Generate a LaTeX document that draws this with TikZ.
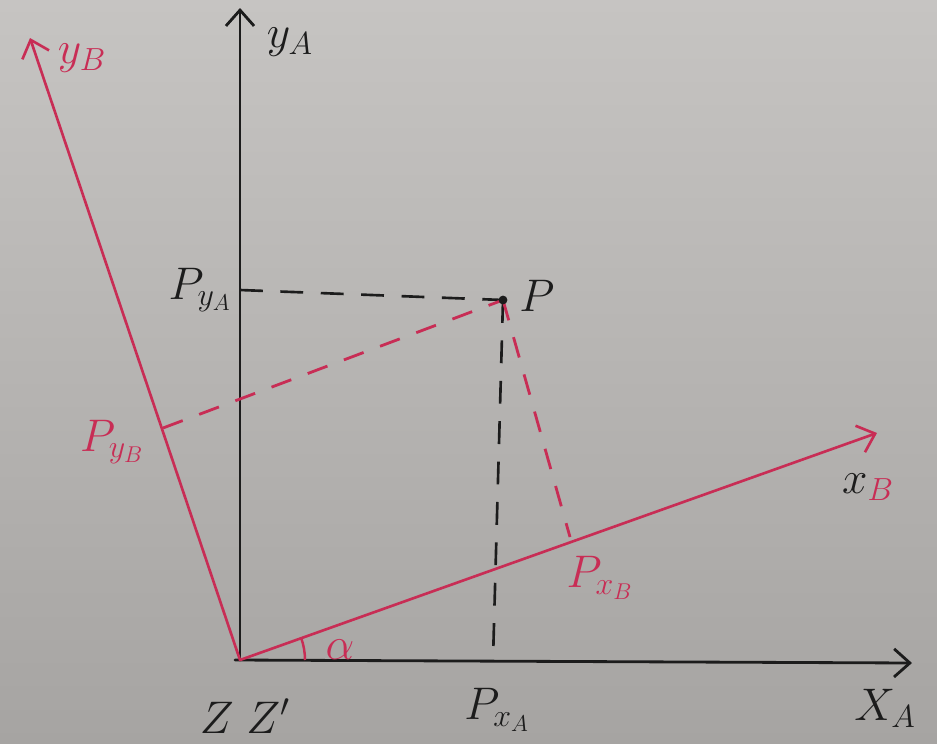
\RequirePackage{fix-cm}
\documentclass[tikz,border=0pt]{standalone}
\usetikzlibrary{arrows.meta,calc}
\definecolor{pen}{RGB}{28,28,28}
\definecolor{redpen}{RGB}{200,45,85}
\definecolor{papertop}{RGB}{198,196,194}
\definecolor{paperbot}{RGB}{166,164,162}
\begin{document}
\begin{tikzpicture}[x=0.02cm,y=-0.02cm,
  blackaxis/.style={pen, line width=1.6pt, line cap=round,
    -{Straight Barb[length=9pt,width=16pt,line width=1.6pt]}},
  redaxis/.style={redpen, line width=1.5pt, line cap=round,
    -{Straight Barb[length=9pt,width=16pt,line width=1.5pt]}},
  blackdash/.style={pen, line width=1.5pt, dash pattern=on 13pt off 10pt},
  reddash/.style={redpen, line width=1.6pt, dash pattern=on 12pt off 10pt},
  lbl/.style={inner sep=0pt, font=\fontsize{26}{30}\selectfont},
  blacklbl/.style={lbl, text=pen},
  redlbl/.style={lbl, text=redpen}]
  % paper
  \shade[top color=papertop, bottom color=paperbot] (0,0) rectangle (937,744);
  \useasboundingbox (0,0) rectangle (937,744);
  % points
  \coordinate (O) at (240,660);
  \coordinate (yAend) at (240,8);
  \coordinate (xAstart) at (235,660);
  \coordinate (xAend) at (912,663);
  \coordinate (yBend) at (30,38);
  \coordinate (xBend) at (877,433);
  \coordinate (P) at (503,300);
  \coordinate (PyA) at (240,290);
  \coordinate (PxA) at (493,660);
  \coordinate (PyB) at (163,428);
  \coordinate (PxB) at (570,537);
  \coordinate (arcstart) at (305,660);
  % axes
  \draw[blackaxis] (O) -- (yAend);
  \draw[blackaxis] (xAstart) -- (xAend);
  \draw[redaxis] (O) -- (yBend);
  \draw[redaxis] (O) -- (xBend);
  % projections
  \draw[blackdash] (PyA) -- (P);
  \draw[blackdash] (P) -- (PxA);
  \draw[reddash] (PyB) -- (P);
  \draw[reddash] (P) -- (PxB);
  \fill[pen] (P) circle (2.5pt);
  % angle
  \draw[redpen, line width=1.4pt] (arcstart) arc[start angle=0, end angle=-19.6, radius=65];
  % labels
  \node[blacklbl] (lyA) at (290,42) {$y_A$};
  \node[redlbl] (lyB) at (82,58) {$y_B$};
  \node[blacklbl] (lPyA) at (200,290) {$P_{y_A}$};
  \node[blacklbl] (lP) at (537,296) {$P$};
  \node[redlbl] (lPyB) at (112,442) {$P_{y_B}$};
  \node[blacklbl] (lxB) at (868,487) {$x_{\textcolor{redpen}{B}}$};
  \node[redlbl] (lPxB) at (600,578) {$P_{x_B}$};
  \node[redlbl] (lalpha) at (340,650) {$\alpha$};
  \node[blacklbl] (lPxA) at (497,710) {$P_{x_A}$};
  \node[blacklbl] (lXA) at (885,708) {$X_A$};
  \node[blacklbl] (lZ) at (245,716) {$Z\;Z'$};
\end{tikzpicture}
\end{document}
